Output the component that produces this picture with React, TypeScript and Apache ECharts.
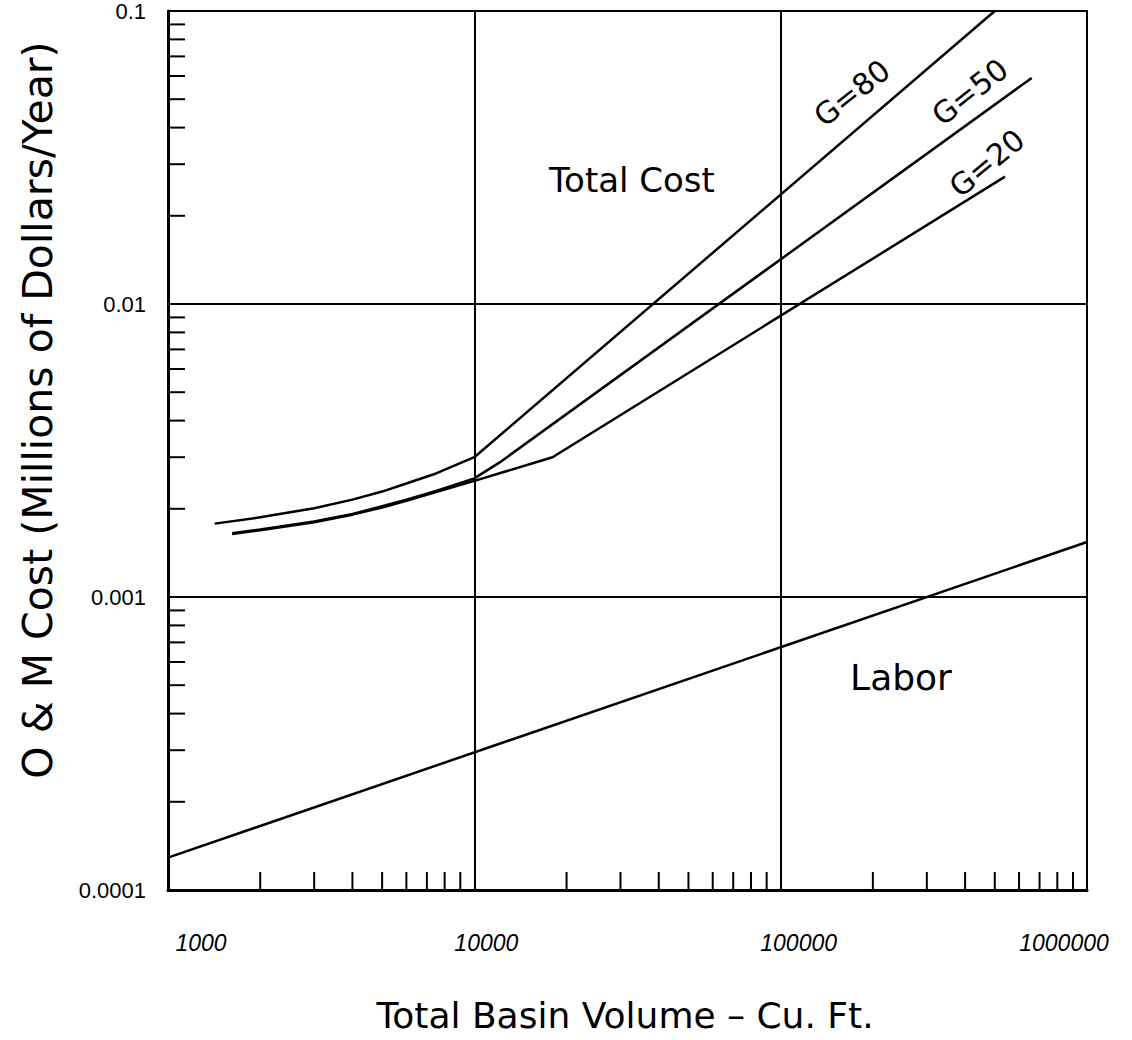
import React, { useEffect, useRef } from "react";
import * as echarts from "echarts";

// ---- data ----
const xTickValues = [1000, 10000, 100000, 1000000];
const xTickLabels = ["1000", "10000", "100000", "1000000"];
const yTickValues = [0.0001, 0.001, 0.01, 0.1];
const yTickLabels = ["0.0001", "0.001", "0.01", "0.1"];

const g80: [number, number][] = [
  [1420, 0.00178], [2000, 0.00187], [3000, 0.00201], [4000, 0.00215],
  [5000, 0.00229], [6000, 0.00244], [7500, 0.00264], [10000, 0.003],
  [500000, 0.1],
];
const g50: [number, number][] = [
  [1620, 0.00165], [2000, 0.0017], [3000, 0.00181], [4000, 0.00192],
  [5000, 0.00204], [6000, 0.00215], [7500, 0.0023], [10000, 0.00254],
  [12100, 0.00288], [660000, 0.0591],
];
const g20: [number, number][] = [
  [1620, 0.00164], [2000, 0.00169], [3000, 0.0018], [4000, 0.00191],
  [5000, 0.00202], [6000, 0.00213], [7500, 0.00228], [10000, 0.00249],
  [18000, 0.003], [540000, 0.0272],
];
const labor: [number, number][] = [
  [1000, 0.000129], [1000000, 0.00154],
];

const xMinor = [
  2000, 3000, 4000, 5000, 6000, 7000, 8000, 9000,
  20000, 30000, 40000, 50000, 60000, 70000, 80000, 90000,
  200000, 300000, 400000, 500000, 600000, 700000, 800000, 900000,
];
const yMinor = [
  0.0002, 0.0003, 0.0004, 0.0005, 0.0006, 0.0007, 0.0008, 0.0009,
  0.002, 0.003, 0.004, 0.005, 0.006, 0.007, 0.008, 0.009,
  0.02, 0.03, 0.04, 0.05, 0.06, 0.07, 0.08, 0.09,
];

const xTitle = "Total Basin Volume \u2013 Cu. Ft.";
const yTitle = "O & M Cost (Millions of Dollars/Year)";

// styling only
const FONT = "Liberation Sans";
const TFONT = "DejaVu Sans";
const xLabelShift = [66, 24, 36, -46];

export default function App() {
  const ref = useRef<HTMLDivElement>(null);
  useEffect(() => {
    if (!ref.current) return;
    const chart = echarts.init(ref.current, undefined, { renderer: "svg" });
    const lineStyle = { color: "#000", width: 2.5 };
    const rich: Record<string, any> = {};
    xLabelShift.forEach((s, i) => {
      rich["l" + i] = {
        fontSize: 23,
        fontStyle: "italic",
        fontFamily: FONT,
        color: "#000",
        padding: s >= 0 ? [0, 0, 0, s] : [0, -s, 0, 0],
      };
    });
    chart.setOption({
      animation: false,
      backgroundColor: "#fff",
      grid: {
        left: 168,
        right: 45,
        top: 10,
        bottom: 150,
        show: true,
        borderColor: "#000",
        borderWidth: 2,
      },
      xAxis: {
        type: "log",
        logBase: 10,
        min: 1000,
        max: 1000000,
        axisLine: { show: true, lineStyle: { color: "#000", width: 3 } },
        axisTick: { show: false },
        splitLine: { show: true, lineStyle: { color: "#000", width: 2 } },
        axisLabel: {
          margin: 41,
          formatter: (v: number) => {
            const i = xTickValues.findIndex((t) => Math.abs(Math.log10(t) - Math.log10(v)) < 1e-6);
            return i >= 0 ? `{l${i}|${xTickLabels[i]}}` : "";
          },
          rich,
        },
      },
      yAxis: {
        type: "log",
        logBase: 10,
        min: 0.0001,
        max: 0.1,
        axisLine: { show: true, lineStyle: { color: "#000", width: 3 } },
        axisTick: { show: false },
        splitLine: { show: true, lineStyle: { color: "#000", width: 2 } },
        axisLabel: {
          margin: 22,
          fontSize: 22,
          fontFamily: FONT,
          color: "#000",
          formatter: (v: number) => {
            const i = yTickValues.findIndex((t) => Math.abs(Math.log10(t) - Math.log10(v)) < 1e-6);
            return i >= 0 ? yTickLabels[i] : "";
          },
        },
      },
      series: [
        { type: "line", name: "G=80", data: g80, showSymbol: false, lineStyle, silent: true },
        { type: "line", name: "G=50", data: g50, showSymbol: false, lineStyle, silent: true },
        { type: "line", name: "G=20", data: g20, showSymbol: false, lineStyle, silent: true },
        { type: "line", name: "Labor", data: labor, showSymbol: false, lineStyle, silent: true },
        {
          type: "custom",
          silent: true,
          data: xMinor.map((v) => [v, 0.0001]),
          renderItem: (params: any, api: any) => {
            const p = api.coord([api.value(0), api.value(1)]);
            return {
              type: "line",
              shape: { x1: p[0], y1: p[1], x2: p[0], y2: p[1] - 18 },
              style: { stroke: "#000", lineWidth: 2 },
            };
          },
        },
        {
          type: "custom",
          silent: true,
          data: yMinor.map((v) => [1000, v]),
          renderItem: (params: any, api: any) => {
            const p = api.coord([api.value(0), api.value(1)]);
            return {
              type: "line",
              shape: { x1: p[0], y1: p[1], x2: p[0] + 17, y2: p[1] },
              style: { stroke: "#000", lineWidth: 2 },
            };
          },
        },
      ],
      graphic: [
        {
          type: "text",
          x: 625,
          y: 1015,
          style: { text: xTitle, font: `36px '${TFONT}'`, fill: "#000", align: "center", verticalAlign: "middle" },
        },
        {
          type: "text",
          x: 38,
          y: 410,
          rotation: Math.PI / 2,
          style: { text: yTitle, font: `41px '${TFONT}'`, fill: "#000", align: "center", verticalAlign: "middle" },
        },
        {
          type: "text",
          x: 632,
          y: 180,
          style: { text: "Total Cost", font: `34px '${TFONT}'`, fill: "#000", align: "center", verticalAlign: "middle" },
        },
        {
          type: "text",
          x: 901,
          y: 677,
          style: { text: "Labor", font: `36px '${TFONT}'`, fill: "#000", align: "center", verticalAlign: "middle" },
        },
        {
          type: "text",
          x: 852,
          y: 93,
          rotation: 0.67,
          style: { text: "G=80", font: `30px '${TFONT}'`, fill: "#000", align: "center", verticalAlign: "middle" },
        },
        {
          type: "text",
          x: 970,
          y: 92,
          rotation: 0.67,
          style: { text: "G=50", font: `30px '${TFONT}'`, fill: "#000", align: "center", verticalAlign: "middle" },
        },
        {
          type: "text",
          x: 987,
          y: 163,
          rotation: 0.69,
          style: { text: "G=20", font: `30px '${TFONT}'`, fill: "#000", align: "center", verticalAlign: "middle" },
        },
      ],
    });
    return () => chart.dispose();
  }, []);
  return <div ref={ref} style={{ width: 1132, height: 1040, position: "absolute", left: 0, top: 0 }} />;
}
